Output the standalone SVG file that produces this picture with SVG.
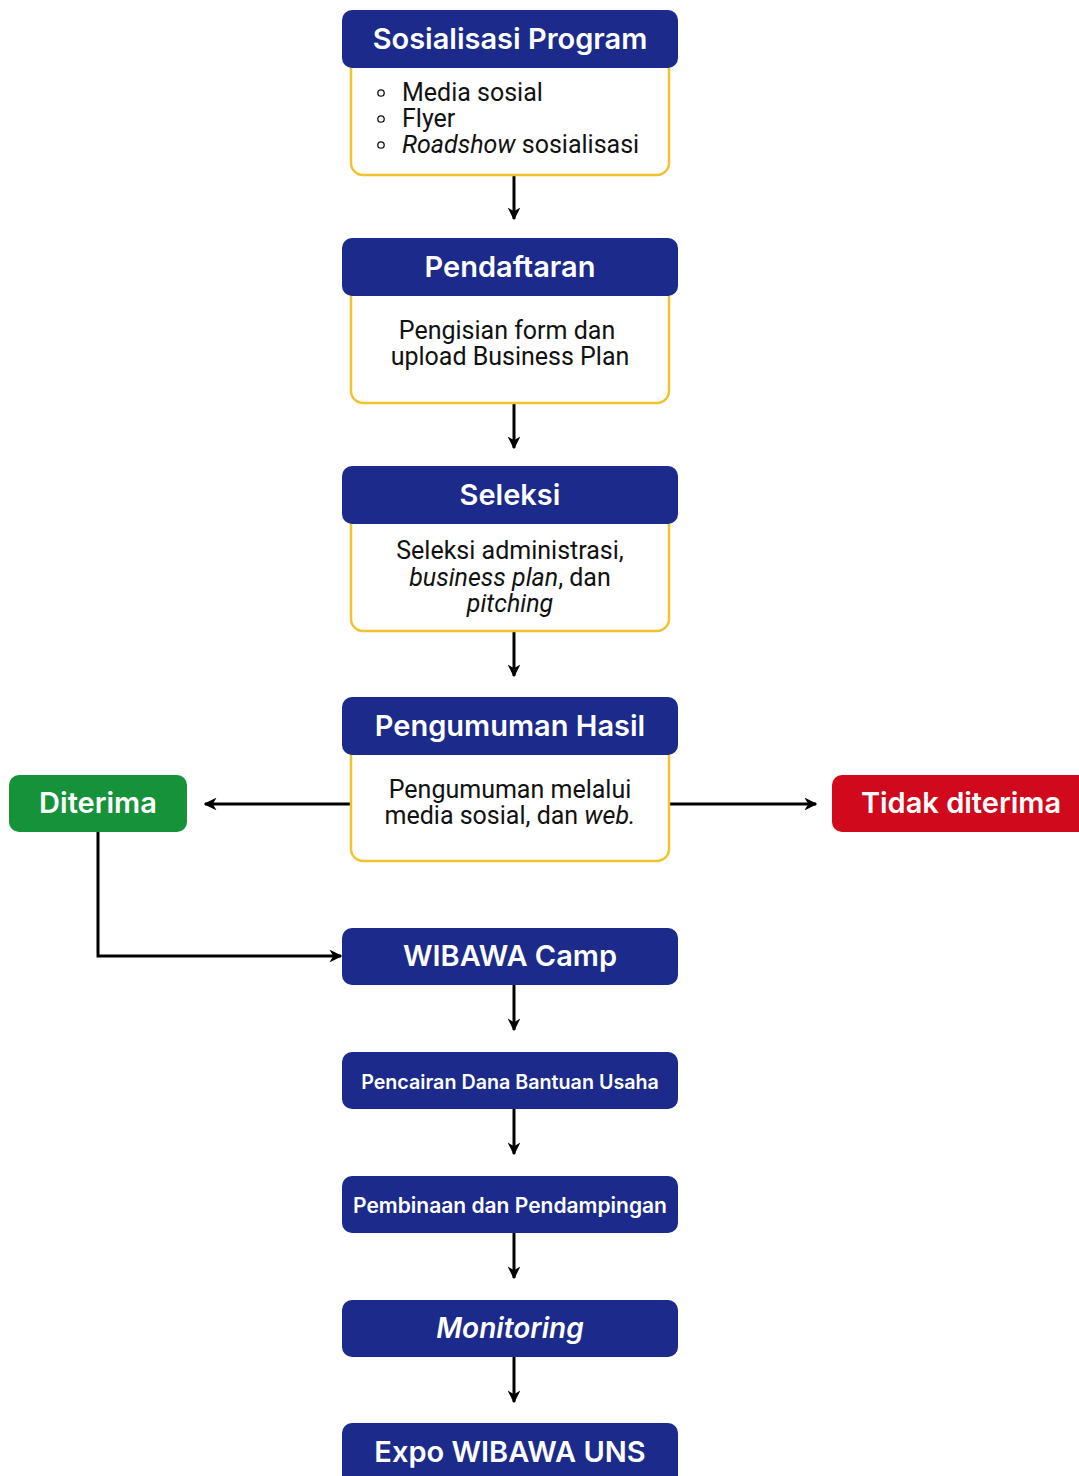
<svg xmlns="http://www.w3.org/2000/svg" width="1079" height="1476" viewBox="0 0 1079 1476">
<defs>
<style>
.hdr{fill:#1B2A8B}
.body{fill:#fff;stroke:#F2C230;stroke-width:2.5}
.ht{font-family:Inter,"Noto Sans",sans-serif;font-weight:600;font-size:29px;fill:#fff;text-anchor:middle}
.hs{font-family:Inter,"Noto Sans",sans-serif;font-weight:600;font-size:19.7px;fill:#fff;text-anchor:middle}
.bt{font-family:Roboto,"Liberation Sans",sans-serif;font-size:25px;fill:#111;text-anchor:middle}
.bl{font-family:Roboto,"Liberation Sans",sans-serif;font-size:25px;fill:#111}
.bul{fill:none;stroke:#111;stroke-width:1.3}
.conn{stroke:#000;stroke-width:3;fill:none}
</style>
<marker id="ah" viewBox="0 0 10 10" refX="9" refY="5" markerWidth="4.3" markerHeight="4.3" orient="auto-start-reverse" markerUnits="strokeWidth">
<path d="M0,0 L10,5 L0,10 L3,5 z" fill="#000"/>
</marker>
</defs>
<rect width="1079" height="1476" fill="#fff"/>

<g id="connectors">
<line class="conn" x1="514" y1="175" x2="514" y2="219" marker-end="url(#ah)"/>
<line class="conn" x1="514" y1="403" x2="514" y2="448" marker-end="url(#ah)"/>
<line class="conn" x1="514" y1="631" x2="514" y2="676" marker-end="url(#ah)"/>
<line class="conn" x1="351" y1="804" x2="205" y2="804" marker-end="url(#ah)"/>
<line class="conn" x1="669" y1="804" x2="816" y2="804" marker-end="url(#ah)"/>
<polyline class="conn" points="98,832 98,956 341,956" marker-end="url(#ah)"/>
<line class="conn" x1="514" y1="985" x2="514" y2="1030" marker-end="url(#ah)"/>
<line class="conn" x1="514" y1="1109" x2="514" y2="1154" marker-end="url(#ah)"/>
<line class="conn" x1="514" y1="1233" x2="514" y2="1278" marker-end="url(#ah)"/>
<line class="conn" x1="514" y1="1357" x2="514" y2="1402" marker-end="url(#ah)"/>
</g>

<g id="sosialisasi">
<rect class="body" x="351" y="50" width="318" height="125" rx="12"/>
<rect class="hdr" x="342" y="10" width="336" height="58" rx="10"/>
<text class="ht" x="510" y="49">Sosialisasi Program</text>
<circle class="bul" cx="381" cy="93" r="3.2"/>
<circle class="bul" cx="381" cy="119" r="3.2"/>
<circle class="bul" cx="381" cy="145" r="3.2"/>
<text class="bl" x="402" y="101">Media sosial</text>
<text class="bl" x="402" y="127">Flyer</text>
<text class="bl" x="402" y="153"><tspan font-style="italic">Roadshow</tspan> sosialisasi</text>
</g>

<g id="pendaftaran">
<rect class="body" x="351" y="280" width="318" height="123" rx="12"/>
<rect class="hdr" x="342" y="238" width="336" height="58" rx="10"/>
<text class="ht" x="510" y="277">Pendaftaran</text>
<text class="bt" x="507" y="339">Pengisian form dan</text>
<text class="bt" x="510" y="365">upload Business Plan</text>
</g>

<g id="seleksi">
<rect class="body" x="351" y="508" width="318" height="123" rx="12"/>
<rect class="hdr" x="342" y="466" width="336" height="58" rx="10"/>
<text class="ht" x="510" y="505">Seleksi</text>
<text class="bt" x="510" y="559">Seleksi administrasi,</text>
<text class="bt" x="510" y="586"><tspan font-style="italic">business plan</tspan>, dan</text>
<text class="bt" x="510" y="612" font-style="italic">pitching</text>
</g>

<g id="pengumuman">
<rect class="body" x="351" y="740" width="318" height="121" rx="12"/>
<rect class="hdr" x="342" y="697" width="336" height="58" rx="10"/>
<text class="ht" x="510" y="736">Pengumuman Hasil</text>
<text class="bt" x="510" y="798">Pengumuman melalui</text>
<text class="bt" x="510" y="824">media sosial, dan <tspan font-style="italic">web.</tspan></text>
</g>

<g id="diterima">
<rect x="9" y="775" width="178" height="57" rx="10" fill="#15923A"/>
<text class="ht" x="98" y="813">Diterima</text>
</g>

<g id="tidak-diterima">
<rect x="832" y="775" width="260" height="57" rx="10" fill="#D0091C"/>
<text class="ht" x="961" y="813">Tidak diterima</text>
</g>

<g id="wibawa-camp">
<rect class="hdr" x="342" y="928" width="336" height="57" rx="10"/>
<text class="ht" x="510" y="966">WIBAWA Camp</text>
</g>

<g id="pencairan">
<rect class="hdr" x="342" y="1052" width="336" height="57" rx="10"/>
<text class="hs" x="510" y="1089">Pencairan Dana Bantuan Usaha</text>
</g>

<g id="pembinaan">
<rect class="hdr" x="342" y="1176" width="336" height="57" rx="10"/>
<text class="hs" x="510" y="1213" style="font-size:21px">Pembinaan dan Pendampingan</text>
</g>

<g id="monitoring">
<rect class="hdr" x="342" y="1300" width="336" height="57" rx="10"/>
<text class="ht" x="510" y="1338" font-style="italic" style="font-size:28px">Monitoring</text>
</g>

<g id="expo">
<rect class="hdr" x="342" y="1423" width="336" height="70" rx="10"/>
<text class="ht" x="510" y="1462">Expo WIBAWA UNS</text>
</g>
</svg>
